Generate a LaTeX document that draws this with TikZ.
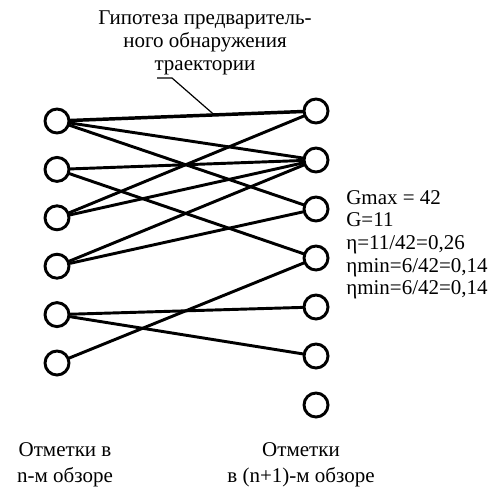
\documentclass[tikz,border=0pt]{standalone}
\usepackage{fontspec}
\setmainfont{Liberation Serif}
\usetikzlibrary{arrows,shapes}

\begin{document}
\begin{tikzpicture}[node distance=36.3pt,auto]
    \tikzstyle{mark-n}=[circle,line width=2.2pt,draw=black,fill=white,inner sep=0pt,minimum size=18pt]
    \tikzstyle{hyp}=[line width=2.2pt,line cap=round]
    \tikzstyle{caption}=[inner sep=0pt,font=\fontsize{15.75pt}{17pt}\selectfont]

    \useasboundingbox (0,0) rectangle (369pt,-366.75pt);

    % n-th scan
    \node [mark-n] (L1) at (42.75pt,-90.75pt) {};
    \node [mark-n] (L2) [below of=L1] {};
    \node [mark-n] (L3) [below of=L2] {};
    \node [mark-n] (L4) [below of=L3] {};
    \node [mark-n] (L5) [below of=L4] {};
    \node [mark-n] (L6) [below of=L5] {};

    % (n+1)-th scan
    \node [mark-n] (R1) at (237pt,-83.25pt) {};
    \node [mark-n] (R2) [below of=R1,node distance=36.75pt] {};
    \node [mark-n] (R3) [below of=R2,node distance=36.75pt] {};
    \node [mark-n] (R4) [below of=R3,node distance=36.75pt] {};
    \node [mark-n] (R5) [below of=R4,node distance=36.75pt] {};
    \node [mark-n] (R6) [below of=R5,node distance=36.75pt] {};
    \node [mark-n] (R7) [below of=R6,node distance=36.75pt] {};

    \draw [hyp,line width=2.6pt] (L1) -- (R1) coordinate[pos=0.62] (h1);
    \draw [hyp] (L1) -- (R2);
    \draw [hyp] (L1) -- (R3);
    \draw [hyp] (L2) -- (R2);
    \draw [hyp] (L2) -- (R4);
    \draw [hyp] (L3) -- (R1);
    \draw [hyp] (L3) -- (R2);
    \draw [hyp] (L4) -- (R2);
    \draw [hyp] (L4) -- (R3);
    \draw [hyp] (L5) -- (R5);
    \draw [hyp] (L5) -- (R6);
    \draw [hyp] (L6) -- (R4);

    \node [caption,align=center] (title) at (153.75pt,-32.25pt)
        {Гипотеза предваритель-\\ного обнаружения\\траектории};
    \coordinate (u1) at (117.75pt,-58.5pt);
    \coordinate (u2) at (129pt,-58.5pt);
    \draw [line width=0.9pt] (u1) -- (u2) -- (h1);

    \node [caption,align=left,anchor=north west] (calc) at (259.5pt,-142.5pt)
        {Gmax = 42\\G=11\\η=11/42=0,26\\ηmin=6/42=0,14\\ηmin=6/42=0,14};

    \node [caption,align=center,font=\fontsize{15.75pt}{19pt}\selectfont] (scan-n) at (48.75pt,-348.5pt)
        {Отметки в\\n-м обзоре};
    \node [caption,align=center,font=\fontsize{15.75pt}{19pt}\selectfont] (scan-n1) at (225.75pt,-348.5pt)
        {Отметки\\в (n+1)-м обзоре};

\end{tikzpicture}
\end{document}
